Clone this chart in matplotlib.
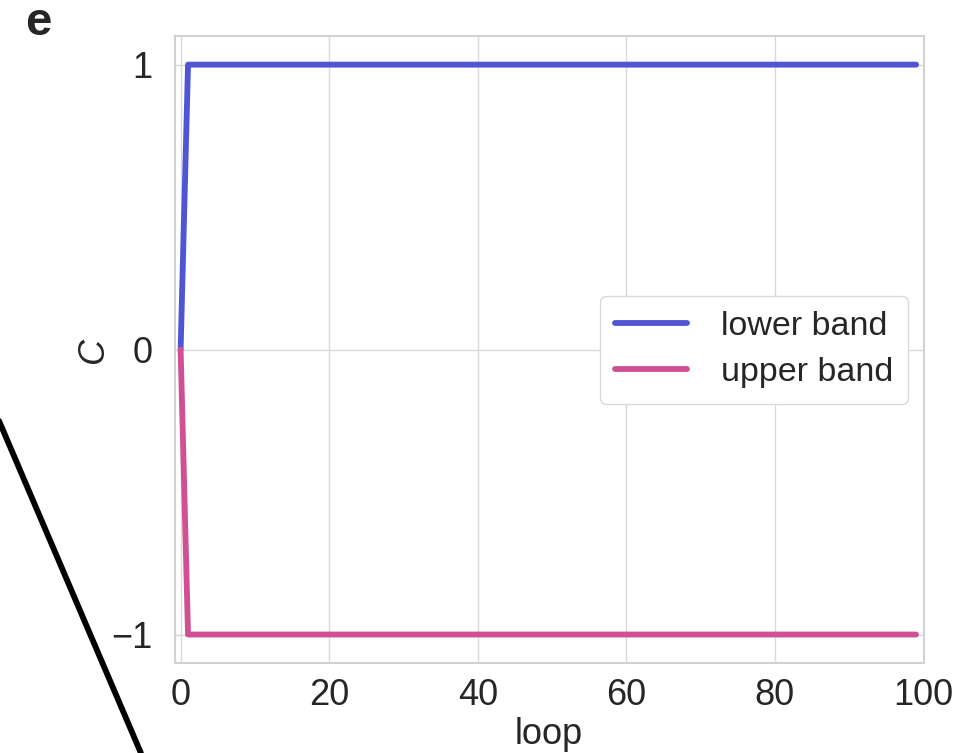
import matplotlib
matplotlib.use("Agg")
import matplotlib.pyplot as plt
from matplotlib.lines import Line2D
import seaborn as sns

# loop index and Chern number per band
loops = list(range(0, 100))
lower_band = [0] + [1] * 99
upper_band = [0] + [-1] * 99

blue = '#5055d4'
pink = '#d15093'

sns.set_theme(style="whitegrid")
plt.rcParams['font.family'] = ['Liberation Sans', 'DejaVu Sans']
plt.rcParams['axes.edgecolor'] = '.82'
plt.rcParams['grid.color'] = '.85'

fig = plt.figure(figsize=(9.65, 7.53), dpi=100)
ax = fig.add_axes([0.181, 0.1195, 0.776, 0.8325])

ax.plot(loops, lower_band, color=blue, lw=4.2, label='lower band', solid_capstyle='round')
ax.plot(loops, upper_band, color=pink, lw=4.2, label='upper band', solid_capstyle='round')

ax.set_xlim(-0.8, 100)
ax.set_ylim(-1.1, 1.1)
ax.set_xticks([0, 20, 40, 60, 80, 100])
ax.set_yticks([-1, 0, 1])
ax.tick_params(labelsize=26)
ax.tick_params(axis='x', pad=5)
ax.tick_params(axis='y', pad=10)
ax.set_xlabel('loop', fontsize=26, labelpad=3)
ax.set_ylabel('C', fontsize=26, fontstyle='italic', labelpad=0)
for s in ax.spines.values():
    s.set_linewidth(1.5)

leg = ax.legend(loc='center right', fontsize=24.5, handlelength=2.1, handletextpad=1.0,
                borderpad=0.45, labelspacing=0.45, borderaxespad=0.45, framealpha=1)
leg.get_frame().set_edgecolor('.85')

# panel letter and the stray connector line from the neighbouring panel
fig.text(0.04, 0.97, 'e', fontsize=34, fontweight='bold', ha='center', va='center')
fig.add_artist(Line2D([-0.01, 0.146], [0.468, 0.0], color='black', lw=4.2,
                      transform=fig.transFigure))

fig.savefig('out.png', dpi=100)
